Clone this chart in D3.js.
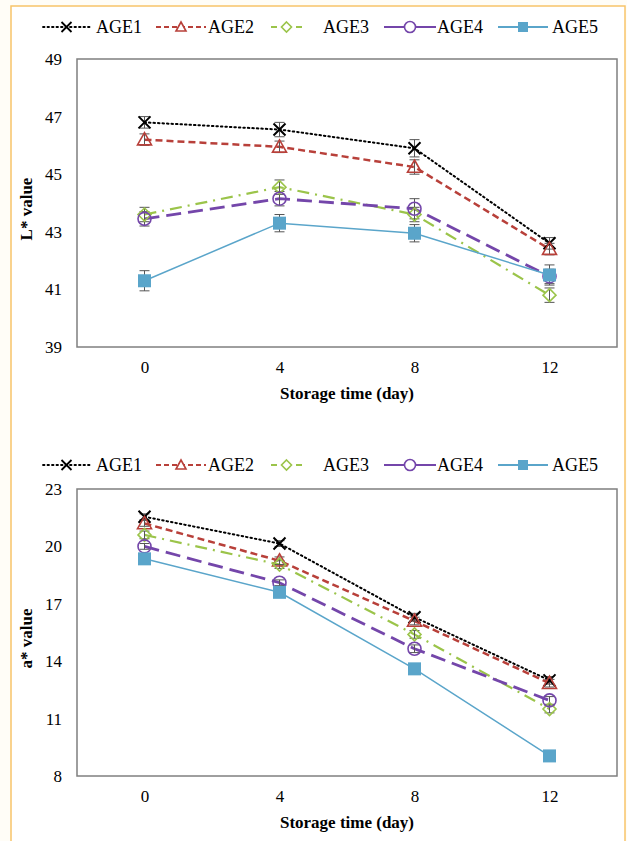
<!DOCTYPE html>
<html><head><meta charset="utf-8">
<script src="https://cdn.jsdelivr.net/npm/d3@7"></script>
<style>
html,body{margin:0;padding:0;background:#fffdf7;}
svg{display:block;}
svg text{font-family:"Liberation Serif","Times New Roman","DejaVu Serif",serif !important;}
</style></head>
<body>
<svg id="chart" width="627" height="841"></svg>
<script>
const days = ["0","4","8","12"];
const seriesNames = ["AGE1","AGE2","AGE3","AGE4","AGE5"];
// L* values
const L_AGE1 = [46.8, 46.55, 45.9, 42.6];
const L_AGE2 = [46.2, 45.95, 45.25, 42.4];
const L_AGE3 = [43.6, 44.55, 43.6, 40.8];
const L_AGE4 = [43.45, 44.15, 43.8, 41.45];
const L_AGE5 = [41.3, 43.3, 42.95, 41.5];
const L_ERR1 = [0.2, 0.25, 0.3, 0.2];
const L_ERR2 = [0.2, 0.2, 0.25, 0.2];
const L_ERR3 = [0.25, 0.25, 0.25, 0.25];
const L_ERR4 = [0.25, 0.25, 0.35, 0.25];
const L_ERR5 = [0.35, 0.3, 0.3, 0.35];
// a* values
const A_AGE1 = [21.55, 20.15, 16.3, 13.0];
const A_AGE2 = [21.2, 19.25, 16.1, 12.85];
const A_AGE3 = [20.6, 19.05, 15.4, 11.5];
const A_AGE4 = [20.0, 18.1, 14.65, 11.95];
const A_AGE5 = [19.35, 17.6, 13.6, 9.05];
const A_ERR1 = [0.15, 0.15, 0.2, 0.2];
const A_ERR2 = [0.15, 0.2, 0.2, 0.2];
const A_ERR3 = [0.2, 0.2, 0.2, 0.2];
const A_ERR4 = [0.15, 0.15, 0.2, 0.2];
const A_ERR5 = [0.1, 0.1, 0.1, 0.1];
const L_TICKS = [39, 41, 43, 45, 47, 49];
const A_TICKS = [8, 11, 14, 17, 20, 23];

const styles = [
  {color:"#000000", dash:"1.5,3", width:2, cap:"round", marker:"x"},
  {color:"#b8403a", dash:"7,4", width:2.5, cap:"butt", marker:"triangle"},
  {color:"#9bc44a", dash:"12,6,2,6", width:2.2, cap:"butt", marker:"diamond"},
  {color:"#7446aa", dash:"15,7", width:2.8, cap:"butt", marker:"circle"},
  {color:"#5aa5ca", dash:null, width:1.5, cap:"butt", marker:"square"}
];

const svg = d3.select("#chart");
const FONT = "Liberation Serif";

svg.append("rect").attr("x",11).attr("y",6).attr("width",614).attr("height",850)
  .attr("fill","#ffffff").attr("stroke","#f8c46a").attr("stroke-width",1.5);

function drawMarker(g, type, x, y, color){
  if(type==="x"){
    const s=6;
    g.append("path").attr("d",`M${x-s},${y-s}L${x+s},${y+s}M${x-s},${y+s}L${x+s},${y-s}`)
      .attr("stroke",color).attr("stroke-width",2).attr("fill","none");
  } else if(type==="triangle"){
    const s=7;
    g.append("path").attr("d",`M${x},${y-s}L${x+s},${y+s*0.75}L${x-s},${y+s*0.75}Z`)
      .attr("stroke",color).attr("stroke-width",1.6).attr("fill","none");
  } else if(type==="diamond"){
    const s=6.5;
    g.append("path").attr("d",`M${x},${y-s}L${x+s},${y}L${x},${y+s}L${x-s},${y}Z`)
      .attr("stroke",color).attr("stroke-width",1.6).attr("fill","none");
  } else if(type==="circle"){
    g.append("circle").attr("cx",x).attr("cy",y).attr("r",6.5)
      .attr("stroke",color).attr("stroke-width",1.6).attr("fill","none");
  } else if(type==="square"){
    const s=6.5;
    g.append("rect").attr("x",x-s).attr("y",y-s).attr("width",2*s).attr("height",2*s)
      .attr("fill",color);
  }
}

function drawLegendMarker(g,type,x,y,color){
  const s=5;
  if(type==="x") g.append("path").attr("d",`M${x-s},${y-s}L${x+s},${y+s}M${x-s},${y+s}L${x+s},${y-s}`).attr("stroke",color).attr("stroke-width",1.8);
  else if(type==="triangle") g.append("path").attr("d",`M${x},${y-s}L${x+s},${y+s*0.8}L${x-s},${y+s*0.8}Z`).attr("stroke",color).attr("stroke-width",1.6).attr("fill","#fff");
  else if(type==="diamond") g.append("path").attr("d",`M${x},${y-s}L${x+s},${y}L${x},${y+s}L${x-s},${y}Z`).attr("stroke",color).attr("stroke-width",1.6).attr("fill","#fff");
  else if(type==="circle") g.append("circle").attr("cx",x).attr("cy",y).attr("r",s+0.5).attr("stroke",color).attr("stroke-width",1.6).attr("fill","#fff");
  else g.append("rect").attr("x",x-s).attr("y",y-s).attr("width",2*s).attr("height",2*s).attr("fill",color);
}

function drawLegend(cy){
  const g = svg.append("g");
  const legendItems = [
    {x0:43, x1:90, tx:96},
    {x0:156, x1:206, tx:208},
    {x0:271, x1:302, tx:323},
    {x0:384, x1:436, tx:437},
    {x0:498, x1:548, tx:552}
  ];
  const legendDash = ["1.5,3","5,3",null,null,null];
  legendItems.forEach((it,i)=>{
    const st = styles[i];
    const mid = (it.x0+it.x1)/2;
    if(i===2){
      g.append("line").attr("x1",it.x0).attr("x2",it.x0+6).attr("y1",cy).attr("y2",cy)
        .attr("stroke",st.color).attr("stroke-width",2);
      g.append("line").attr("x1",it.x1-6).attr("x2",it.x1).attr("y1",cy).attr("y2",cy)
        .attr("stroke",st.color).attr("stroke-width",2);
    } else {
      g.append("line").attr("x1",it.x0).attr("x2",it.x1).attr("y1",cy).attr("y2",cy)
        .attr("stroke",st.color).attr("stroke-width",i===0?1.8:2)
        .attr("stroke-dasharray",legendDash[i]).attr("stroke-linecap",i===0?"round":"butt");
    }
    drawLegendMarker(g.append("g"), st.marker, mid, cy, st.color);
    g.append("text").attr("x",it.tx).attr("y",cy).attr("dy","0.35em")
      .style("font-family",FONT).attr("font-size",18).attr("fill","#000").text(seriesNames[i]);
  });
}

function drawPanel(cfg){
  const x = d3.scalePoint().domain(days).range([77,617]).padding(0.5);
  const y = d3.scaleLinear().domain(cfg.domain).range([cfg.bottom, cfg.top]);
  const g = svg.append("g");
  g.append("rect").attr("x",77).attr("y",cfg.top).attr("width",540).attr("height",cfg.bottom-cfg.top)
    .attr("fill","#fff").attr("stroke","#7f7f7f").attr("stroke-width",1.5);
  const yAxis = d3.axisLeft(y).tickValues(cfg.ticks).tickSize(0).tickPadding(0);
  const ya = g.append("g").attr("transform","translate(62,0)").call(yAxis);
  ya.attr("font-family",null);
  ya.select(".domain").remove();
  ya.selectAll("text").style("font-family",FONT).attr("font-size",17).attr("fill","#000");
  const xAxis = d3.axisBottom(x).tickSize(0).tickPadding(0);
  const xa = g.append("g").attr("transform",`translate(0,${cfg.bottom+14})`).call(xAxis);
  xa.attr("font-family",null);
  xa.select(".domain").remove();
  xa.selectAll("text").style("font-family",FONT).attr("font-size",17).attr("fill","#000");
  g.append("text").attr("x",347).attr("y",cfg.bottom+52).attr("text-anchor","middle")
    .style("font-family",FONT).attr("font-weight","bold").attr("font-size",17).text("Storage time (day)");
  g.append("text").attr("transform",`translate(32,${(cfg.top+cfg.bottom)/2+6}) rotate(-90)`)
    .attr("text-anchor","middle").style("font-family",FONT).attr("font-weight","bold")
    .attr("font-size",17).text(cfg.ytitle);
  const line = d3.line().x((d,i)=>x(days[i])).y(d=>y(d));
  cfg.series.forEach((vals,si)=>{
    const st = styles[si];
    g.append("path").datum(vals).attr("d",line).attr("fill","none")
      .attr("stroke",st.color).attr("stroke-width",st.width)
      .attr("stroke-dasharray",st.dash).attr("stroke-linecap",st.cap);
  });
  cfg.series.forEach((vals,si)=>{
    vals.forEach((v,i)=>{
      const e = cfg.errs[si][i];
      const cx = x(days[i]);
      const y0 = y(v-e), y1 = y(v+e);
      g.append("line").attr("x1",cx).attr("x2",cx).attr("y1",y0).attr("y2",y1).attr("stroke","#555").attr("stroke-width",1);
      [y0,y1].forEach(yy=>g.append("line").attr("x1",cx-5).attr("x2",cx+5).attr("y1",yy).attr("y2",yy).attr("stroke","#555").attr("stroke-width",1));
    });
  });
  cfg.series.forEach((vals,si)=>{
    const st = styles[si];
    vals.forEach((v,i)=>drawMarker(g, st.marker, x(days[i]), y(v), st.color));
  });
}

drawLegend(27);
drawPanel({top:59,bottom:347,domain:[39,49],ticks:L_TICKS,ytitle:"L* value",
  series:[L_AGE1,L_AGE2,L_AGE3,L_AGE4,L_AGE5],errs:[L_ERR1,L_ERR2,L_ERR3,L_ERR4,L_ERR5]});
drawLegend(465);
drawPanel({top:489,bottom:776,domain:[8,23],ticks:A_TICKS,ytitle:"a* value",
  series:[A_AGE1,A_AGE2,A_AGE3,A_AGE4,A_AGE5],errs:[A_ERR1,A_ERR2,A_ERR3,A_ERR4,A_ERR5]});
</script>
</body></html>
